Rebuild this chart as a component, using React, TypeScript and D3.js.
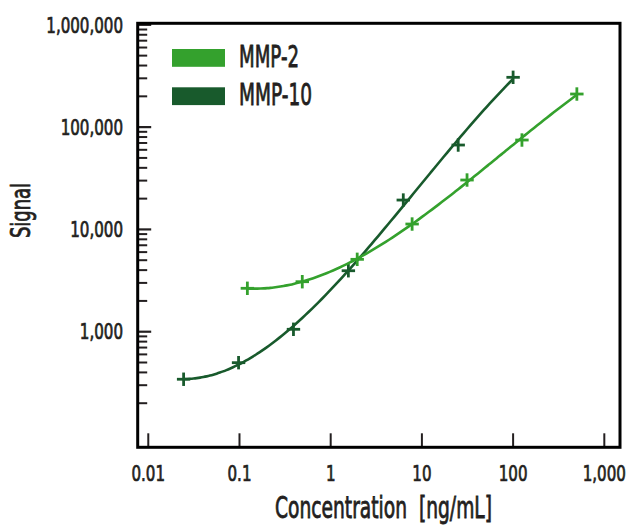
import React from "react";
import * as d3 from "d3";

const seriesNames = ["MMP-2", "MMP-10"];
const seriesColors = ["#34a12d", "#185a2c"];
const mmp2Conc = [0.122, 0.488, 1.953, 7.8125, 31.25, 125, 500];
const mmp2Signal = [2657, 3082, 5100, 11290, 30400, 74800, 210700];
const mmp10Conc = [0.0244, 0.0977, 0.3906, 1.5625, 6.25, 25, 100];
const mmp10Signal = [343, 498, 1056, 3945, 19370, 66840, 306800];
const xTickValues = [0.01, 0.1, 1, 10, 100, 1000];
const xTickLabels = ["0.01", "0.1", "1", "10", "100", "1,000"];
const yTickValues = [1000, 10000, 100000, 1000000];
const yTickLabels = ["1,000", "10,000", "100,000", "1,000,000"];
const xTitle = "Concentration  [ng/mL]";
const yTitle = "Signal";

const W = 627;
const H = 526;
const L = 137.7, R = 620, T = 23.3, B = 447.3;
const FONT = "'DejaVu Sans Condensed', 'DejaVu Sans', sans-serif";
const INK = "#231f20";
const SX = 0.78;

// least-squares cubic fit in log-log space (standard-curve fit)
function polyFit(xs: number[], ys: number[], deg: number): number[] {
  const n = deg + 1;
  const A: number[][] = [];
  for (let r = 0; r < n; r++) {
    A.push(new Array(n + 1).fill(0));
    for (let c = 0; c < n; c++) {
      A[r][c] = d3.sum(xs, (x) => Math.pow(x, r + c));
    }
    A[r][n] = d3.sum(xs, (x, i) => Math.pow(x, r) * ys[i]);
  }
  for (let i = 0; i < n; i++) {
    let p = i;
    for (let k = i + 1; k < n; k++) if (Math.abs(A[k][i]) > Math.abs(A[p][i])) p = k;
    [A[i], A[p]] = [A[p], A[i]];
    for (let k = i + 1; k < n; k++) {
      const f = A[k][i] / A[i][i];
      for (let j = i; j <= n; j++) A[k][j] -= f * A[i][j];
    }
  }
  const coef = new Array(n).fill(0);
  for (let i = n - 1; i >= 0; i--) {
    let s = A[i][n];
    for (let j = i + 1; j < n; j++) s -= A[i][j] * coef[j];
    coef[i] = s / A[i][i];
  }
  return coef;
}

function fitCurve(xs: number[], ys: number[]): [number, number][] {
  const lx = xs.map(Math.log10);
  const ly = ys.map(Math.log10);
  const c = polyFit(lx, ly, 3);
  const lo = d3.min(lx) as number, hi = d3.max(lx) as number;
  return d3.range(0, 101).map((i) => {
    const t = lo + ((hi - lo) * i) / 100;
    const v = c[0] + c[1] * t + c[2] * t * t + c[3] * t * t * t;
    return [Math.pow(10, t), Math.pow(10, v)] as [number, number];
  });
}

function Label(props: { x: number; y: number; anchor: string; size: number; text: string; dy?: string }) {
  return (
    <text
      transform={`translate(${props.x},${props.y}) scale(${SX},1)`}
      textAnchor={props.anchor}
      dy={props.dy}
      fontSize={props.size}
      fill={INK}
      stroke={INK}
      strokeWidth={0.7}
    >
      {props.text}
    </text>
  );
}

export default function App() {
  const x = d3.scaleLog().domain([Math.pow(10, -2.116), Math.pow(10, 3.172)]).range([L, R]);
  const y = d3.scaleLog().domain([Math.pow(10, 1.87), Math.pow(10, 6.015)]).range([B, T]);

  const minorY: number[] = [];
  for (let k = 2; k <= 5; k++) {
    for (let m = 2; m <= 9; m++) minorY.push(m * Math.pow(10, k));
  }

  const series = [
    { name: seriesNames[1], color: seriesColors[1], xs: mmp10Conc, ys: mmp10Signal },
    { name: seriesNames[0], color: seriesColors[0], xs: mmp2Conc, ys: mmp2Signal },
  ];

  const line = d3
    .line<[number, number]>()
    .x((d) => x(d[0]))
    .y((d) => y(d[1]))
    .curve(d3.curveMonotoneX);

  const arm = 6.7;

  return (
    <svg
      width={W}
      height={H}
      viewBox={`0 0 ${W} ${H}`}
      style={{ position: "absolute", left: 0, top: 0, background: "#fff" }}
      fontFamily={FONT}
    >
      <rect x={0} y={0} width={W} height={H} fill="#fff" />
      {minorY.map((v, i) => (
        <line key={"my" + i} x1={L} x2={L + 9.5} y1={y(v)} y2={y(v)} stroke={INK} strokeWidth={2} />
      ))}
      {yTickValues.map((v, i) => (
        <g key={"yt" + i}>
          <line x1={L} x2={L + 13.5} y1={y(v)} y2={y(v)} stroke={INK} strokeWidth={2.2} />
          <Label x={123} y={y(v)} dy="0.36em" anchor="end" size={21.5} text={yTickLabels[i]} />
        </g>
      ))}
      {xTickValues.map((v, i) => (
        <g key={"xt" + i}>
          <line x1={x(v)} x2={x(v)} y1={B} y2={B - 14} stroke={INK} strokeWidth={2} />
          <Label x={x(v)} y={481} anchor="middle" size={21.5} text={xTickLabels[i]} />
        </g>
      ))}
      <rect x={L} y={T} width={R - L} height={B - T} fill="none" stroke="#000" strokeWidth={3} />

      {series.map((s) => {
        const pts: [number, number][] = s.xs.map((c, i) => [c, s.ys[i]]);
        const fit = fitCurve(s.xs, s.ys);
        return (
          <g key={s.name}>
            <path d={line(fit) || ""} fill="none" stroke={s.color} strokeWidth={2.6} />
            {pts.map((p, i) => (
              <g key={i} stroke={s.color} strokeWidth={2.8}>
                <line x1={x(p[0]) - arm} x2={x(p[0]) + arm} y1={y(p[1])} y2={y(p[1])} />
                <line x1={x(p[0])} x2={x(p[0])} y1={y(p[1]) - arm} y2={y(p[1]) + arm} />
              </g>
            ))}
          </g>
        );
      })}

      {seriesNames.map((n, i) => (
        <g key={"lg" + i}>
          <rect x={172} y={49 + i * 38.3} width={53} height={17.8} fill={seriesColors[i]} />
          <text
            x={239}
            y={66.8 + i * 38.5}
            fontSize={30}
            fill={INK}
            stroke={INK}
            strokeWidth={0.8}
            textLength={i === 0 ? 60 : 73}
            lengthAdjust="spacingAndGlyphs"
          >
            {n}
          </text>
        </g>
      ))}

      <text
        x={383.5}
        y={518}
        textAnchor="middle"
        fontSize={30}
        fill={INK}
        stroke={INK}
        strokeWidth={0.8}
        style={{ whiteSpace: "pre" }}
        textLength={217}
        lengthAdjust="spacingAndGlyphs"
      >
        {xTitle}
      </text>
      <text
        transform="translate(29.5,210.5) rotate(-90)"
        textAnchor="middle"
        fontSize={27}
        fill={INK}
        stroke={INK}
        strokeWidth={0.8}
        textLength={55}
        lengthAdjust="spacingAndGlyphs"
      >
        {yTitle}
      </text>
    </svg>
  );
}
